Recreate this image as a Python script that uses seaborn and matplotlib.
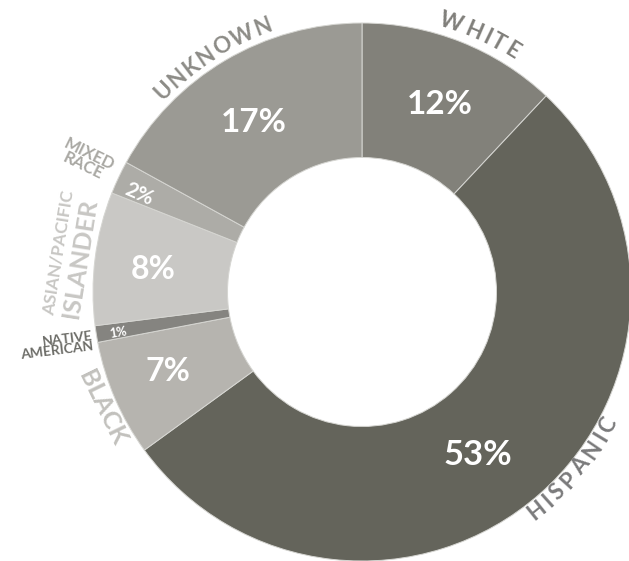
import numpy as np
import matplotlib
matplotlib.use("Agg")
import matplotlib.pyplot as plt
import seaborn as sns
from matplotlib.font_manager import FontProperties
from matplotlib.textpath import TextToPath

# data (clockwise from 12 o'clock)
groups = ["WHITE", "HISPANIC", "BLACK", "NATIVE AMERICAN",
          "ASIAN/PACIFIC ISLANDER", "MIXED RACE", "UNKNOWN"]
shares = [12, 53, 7, 1, 8, 2, 17]
wedge_colors = ["#82817a", "#64645b", "#b6b4af", "#858480",
                "#c9c8c5", "#adaca7", "#9b9a94"]
label_colors = ["#807f7a", "#7a7a7b", "#c2c1bd", "#6d6d68",
                "#c8c7c4", "#a9a8a3", "#8d8c87"]

sns.set_theme(style="white")
plt.rcParams['font.family'] = ['Lato', 'DejaVu Sans']
wt = 'bold'

fig = plt.figure(figsize=(6.29, 5.61), dpi=100)
ax = fig.add_axes([0, 0, 1, 1])

wedges, _ = ax.pie(shares, colors=sns.color_palette(wedge_colors),
                   startangle=90, counterclock=False, radius=1,
                   wedgeprops=dict(width=0.5, edgecolor="#d6d6d2", linewidth=0.7))

# percent labels: (angle offset from wedge middle, radius, size, radial rotation?)
pct_layout = [(-1, 0.755, 24, False), (-6, 0.745, 25, False), (-1, 0.78, 23, False),
              (0.5, 0.92, 9, True), (1, 0.78, 23, False), (1.5, 0.905, 15, True),
              (2, 0.75, 24, False)]
for w, v, (da, r, fs, radial) in zip(wedges, shares, pct_layout):
    a = (w.theta1 + w.theta2) / 2 + da
    rot = a - 180 if radial else 0
    ax.text(r * np.cos(np.radians(a)), r * np.sin(np.radians(a)), f"{v}%",
            color="white", fontsize=fs, fontweight=wt,
            ha="center", va="center", rotation=rot, rotation_mode="anchor")

ttp = TextToPath()


def arc_text(s, a0, a1, r, size, color, top=True):
    prop = FontProperties(family="Lato", size=size, weight=wt)
    widths = [ttp.get_text_width_height_descent(c, prop, ismath=False)[0] + size * 0.06
              for c in s]
    total = sum(widths)
    cum = 0
    for c, wd in zip(s, widths):
        a = a0 + (a1 - a0) * (cum + wd / 2) / total
        cum += wd
        rot = a - 90 if top else a + 90
        ax.text(r * np.cos(np.radians(a)), r * np.sin(np.radians(a)), c,
                fontproperties=prop, color=color, rotation=rot,
                rotation_mode="anchor", ha="center", va="center")


arc_text("WHITE", 74.5, 56.5, 1.055, 16, label_colors[0])
arc_text("UNKNOWN", 136.5, 108.5, 1.05, 16, label_colors[6])
arc_text("HISPANIC", -53.5, -26.5, 1.04, 16, label_colors[1], top=False)

px = 269.0  # pixels per unit radius


def pos(x, y):
    return (x - 362) / px, (292 - y) / px


ax.text(*pos(86, 160), "MIXED\nRACE", color=label_colors[5], fontsize=12,
        fontweight=wt, rotation=-26, rotation_mode="anchor", ha="center",
        va="center", linespacing=0.8)
ax.text(*pos(59, 253), "ASIAN/PACIFIC", color=label_colors[4], fontsize=12.5,
        fontweight=wt, rotation=81, rotation_mode="anchor", ha="center", va="center")
ax.text(*pos(80, 258), "ISLANDER", color=label_colors[4], fontsize=18,
        fontweight=wt, rotation=81, rotation_mode="anchor", ha="center", va="center")
ax.text(*pos(93, 341), "NATIVE\nAMERICAN", color=label_colors[3], fontsize=10,
        fontweight=wt, rotation=7, rotation_mode="anchor", ha="right", va="center",
        multialignment="right", linespacing=0.85)
ax.text(*pos(102, 408), "BLACK", color=label_colors[2], fontsize=18,
        fontweight=wt, rotation=-64, rotation_mode="anchor", ha="center", va="center")

ax.set_xlim(-362 / px, (629 - 362) / px)
ax.set_ylim(-(561 - 292) / px, 292 / px)
ax.set_aspect("auto")
ax.axis("off")

fig.savefig("out.png", dpi=100)
